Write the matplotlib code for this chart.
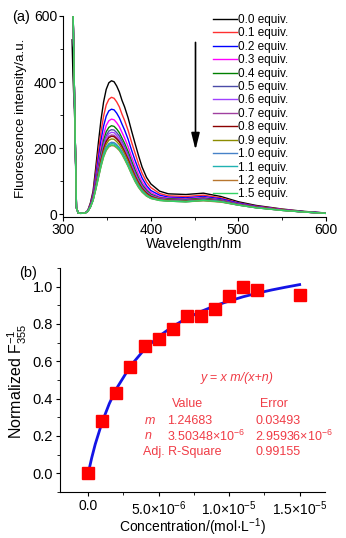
import matplotlib
matplotlib.use("Agg")
from matplotlib import pyplot as plt
from matplotlib.ticker import MultipleLocator, FixedLocator, FormatStrFormatter

plt.rcParams['font.family'] = ['Liberation Sans', 'DejaVu Sans']
plt.rcParams['mathtext.fontset'] = 'custom'
plt.rcParams['mathtext.rm'] = 'Liberation Sans'
plt.rcParams['mathtext.it'] = 'Liberation Sans:italic'
plt.rcParams['mathtext.default'] = 'regular'

# ---- panel (a): fluorescence spectra ----
wavelength = [310, 311, 313, 315, 317, 320, 325, 328, 331, 334, 337, 340, 343, 346, 349, 352, 355, 358,
              361, 364, 367, 370, 374, 378, 382, 386, 390, 395, 400, 410, 420, 440, 460, 480, 500,
              520, 550, 575, 600]

start = [900, 640, 320, 20, 4, 3, 4]

spectra = {
    '0.0 equiv.': [528, 420, 290, 18, 4, 3, 4, 12, 35, 70, 140, 215, 285, 340, 378, 398, 404, 401,
                   388, 370, 345, 325, 292, 252, 214, 177, 143, 112, 92, 70, 62, 60, 64, 54, 38,
                   27, 16, 9, 4],
    '0.1 equiv.': start + [11, 32, 63, 123, 188, 249, 297, 331, 348, 354, 351, 340, 325, 303, 284, 254,
                           218, 185, 152, 124, 98, 81, 63, 56, 54, 58, 50, 35, 25, 15, 8, 4],
    '0.2 equiv.': start + [11, 29, 58, 111, 168, 223, 267, 297, 313, 318, 316, 306, 292, 273, 255, 227,
                           194, 163, 135, 110, 87, 72, 58, 52, 50, 54, 47, 34, 24, 14, 8, 4],
    '0.3 equiv.': start + [10, 27, 53, 101, 152, 201, 241, 269, 283, 288, 286, 277, 265, 248, 231, 205,
                           174, 146, 120, 98, 79, 66, 53, 49, 47, 51, 44, 32, 23, 14, 8, 3],
    '0.4 equiv.': start + [10, 26, 50, 94, 141, 187, 224, 250, 263, 268, 266, 258, 247, 231, 215, 190,
                           161, 134, 110, 90, 73, 61, 50, 47, 45, 49, 43, 31, 22, 13, 8, 3],
    '0.5 equiv.': start + [10, 25, 49, 90, 135, 178, 214, 238, 252, 256, 255, 247, 237, 221, 205, 181,
                           153, 127, 105, 86, 69, 58, 49, 45, 43, 47, 42, 30, 22, 13, 7, 3],
    '0.6 equiv.': start + [10, 25, 48, 88, 131, 172, 207, 231, 244, 248, 247, 239, 229, 215, 199, 175,
                           148, 122, 101, 83, 67, 57, 48, 44, 42, 46, 41, 30, 21, 13, 7, 3],
    '0.7 equiv.': start + [9, 24, 46, 85, 126, 167, 201, 223, 236, 240, 239, 232, 222, 208, 192, 169,
                           142, 118, 97, 80, 65, 55, 46, 43, 41, 45, 40, 30, 21, 13, 7, 3],
    '0.8 equiv.': start + [9, 24, 46, 84, 124, 164, 197, 220, 232, 236, 235, 228, 219, 205, 189, 166,
                           139, 115, 95, 78, 64, 54, 46, 43, 41, 45, 40, 29, 21, 13, 7, 3],
    '0.9 equiv.': start + [9, 23, 45, 81, 120, 158, 190, 212, 224, 228, 227, 220, 211, 198, 183, 160,
                           134, 111, 91, 75, 61, 52, 45, 42, 40, 44, 39, 29, 21, 12, 7, 3],
    '1.0 equiv.': start + [9, 23, 43, 78, 114, 151, 182, 203, 214, 218, 217, 211, 202, 190, 174, 152,
                           127, 105, 86, 71, 58, 50, 43, 41, 39, 43, 39, 28, 20, 12, 7, 3],
    '1.1 equiv.': start + [9, 22, 43, 76, 112, 148, 178, 199, 210, 214, 213, 207, 199, 186, 171, 149,
                           125, 102, 84, 70, 57, 49, 43, 40, 38, 42, 38, 28, 20, 12, 7, 3],
    '1.2 equiv.': start + [9, 22, 42, 74, 109, 144, 173, 193, 204, 208, 207, 201, 193, 181, 166, 145,
                           121, 99, 81, 67, 55, 48, 42, 40, 38, 41, 37, 28, 20, 12, 7, 3],
    '1.5 equiv.': start + [9, 22, 42, 75, 110, 145, 175, 195, 206, 210, 209, 203, 195, 183, 168, 146,
                           122, 100, 82, 68, 56, 48, 42, 40, 38, 42, 38, 28, 20, 12, 7, 3],
}

colors = ['#000000', '#ff3030', '#0000ff', '#ff00ff', '#008000', '#4b4ba8', '#a040ff', '#a040a0',
          '#8b0000', '#8c8c00', '#4682c8', '#20b2b2', '#b8762e', '#32d264']

# ---- panel (b): normalized F355 vs concentration ----
conc = [0, 1e-6, 2e-6, 3e-6, 4e-6, 5e-6, 6e-6, 7e-6, 8e-6, 9e-6, 1e-5, 1.1e-5, 1.2e-5, 1.5e-5]
norm_f = [0.0, 0.281, 0.431, 0.570, 0.682, 0.718, 0.775, 0.843, 0.845, 0.882, 0.950, 1.0, 0.982, 0.955]

fit_x = [0, 0.25e-6, 0.5e-6, 1e-6, 1.5e-6, 2e-6, 3e-6, 4e-6, 5e-6, 6e-6, 7e-6, 8e-6, 9e-6, 1e-5,
         1.1e-5, 1.2e-5, 1.3e-5, 1.4e-5, 1.5e-5]
fit_y = [0.0, 0.083, 0.156, 0.277, 0.374, 0.453, 0.575, 0.665, 0.733, 0.787, 0.831, 0.867, 0.898,
         0.923, 0.946, 0.965, 0.982, 0.997, 1.011]

red = '#f03c46'

fig = plt.figure(figsize=(3.46, 5.38), dpi=100)

ax1 = fig.add_axes([0.183, 0.5967, 0.759, 0.3736])
for (label, vals), c in zip(spectra.items(), colors):
    ax1.plot(wavelength, vals, color=c, lw=1.0, label=label)
ax1.set_xlim(300, 600)
ax1.set_ylim(-8, 600)
ax1.xaxis.set_major_locator(MultipleLocator(100))
ax1.xaxis.set_minor_locator(MultipleLocator(50))
ax1.yaxis.set_major_locator(MultipleLocator(200))
ax1.yaxis.set_minor_locator(MultipleLocator(100))
ax1.spines['top'].set_visible(False)
ax1.spines['right'].set_visible(False)
ax1.tick_params(which='major', direction='out', length=3, labelsize=10, pad=1.5)
ax1.tick_params(which='minor', direction='out', length=2)
ax1.set_xlabel('Wavelength/nm', fontsize=10, labelpad=0)
ax1.set_ylabel('Fluorescence intensity/a.u.', fontsize=9.6)
ax1.yaxis.set_label_coords(-0.138, 0.49)
ax1.legend(loc='upper left', bbox_to_anchor=(213 / 346, 1 - 14 / 538), bbox_transform=fig.transFigure,
           frameon=False, fontsize=8.5, handlelength=2.0, handletextpad=0.15, labelspacing=0.12,
           borderpad=0, borderaxespad=0)
ax1.annotate('', xy=(451, 195), xytext=(451, 520),
             arrowprops=dict(arrowstyle='-|>,head_length=1.0,head_width=0.25', color='k', lw=1.2,
                             mutation_scale=10, shrinkA=0, shrinkB=0))
fig.text(12 / 346, 1 - 17 / 538, '(a)', fontsize=10.5, va='center', ha='left')

ax2 = fig.add_axes([0.1734, 0.0855, 0.766, 0.4164])
ax2.plot(fit_x, fit_y, color='#1414e6', lw=2, zorder=2)
ax2.plot(conc, norm_f, 's', color='#ff0000', ms=9.2, zorder=3)
ax2.set_xlim(-2e-6, 1.68e-5)
ax2.set_ylim(-0.1, 1.1)
ax2.xaxis.set_major_locator(FixedLocator([0, 5e-6, 1e-5, 1.5e-5]))
ax2.xaxis.set_minor_locator(FixedLocator([2.5e-6, 7.5e-6, 1.25e-5]))
ax2.set_xticklabels(['0.0', '5.0×10$^{-6}$', '1.0×10$^{-5}$', '1.5×10$^{-5}$'])
ax2.yaxis.set_major_locator(MultipleLocator(0.2))
ax2.yaxis.set_minor_locator(MultipleLocator(0.1))
ax2.yaxis.set_major_formatter(FormatStrFormatter('%.1f'))
ax2.spines['top'].set_visible(False)
ax2.spines['right'].set_visible(False)
ax2.tick_params(which='major', direction='out', length=3, labelsize=10.5, pad=2)
ax2.tick_params(which='minor', direction='out', length=2)
ax2.tick_params(axis='x', labelsize=10)
ax2.set_xlabel('Concentration/(mol·L$^{-1}$)', fontsize=10)
ax2.xaxis.set_label_coords(0.5, -0.108)
ax2.set_ylabel('Normalized F$_{355}^{-1}$', fontsize=11.5)
ax2.yaxis.set_label_coords(-0.117, 0.495)
fig.text(19 / 346, 1 - 273 / 538, '(b)', fontsize=10.5, va='center', ha='left')

ax2.text(10.57e-6, 0.51, 'y = x m/(x+n)', color=red, fontsize=9, style='italic', ha='center', va='center')
ax2.text(7.07e-6, 0.37, 'Value', color=red, fontsize=9, ha='center', va='center')
ax2.text(13.16e-6, 0.37, 'Error', color=red, fontsize=9, ha='center', va='center')
ax2.text(3.99e-6, 0.28, 'm', color=red, fontsize=9, style='italic', ha='left', va='center')
ax2.text(5.62e-6, 0.28, '1.24683', color=red, fontsize=9, ha='left', va='center')
ax2.text(11.85e-6, 0.28, '0.03493', color=red, fontsize=9, ha='left', va='center')
ax2.text(3.99e-6, 0.20, 'n', color=red, fontsize=9, style='italic', ha='left', va='center')
ax2.text(5.62e-6, 0.20, '3.50348×10$^{-6}$', color=red, fontsize=9, ha='left', va='center')
ax2.text(11.85e-6, 0.20, '2.95936×10$^{-6}$', color=red, fontsize=9, ha='left', va='center')
ax2.text(3.92e-6, 0.114, 'Adj. R-Square', color=red, fontsize=9, ha='left', va='center')
ax2.text(11.85e-6, 0.114, '0.99155', color=red, fontsize=9, ha='left', va='center')

fig.savefig('out.png', dpi=100)
